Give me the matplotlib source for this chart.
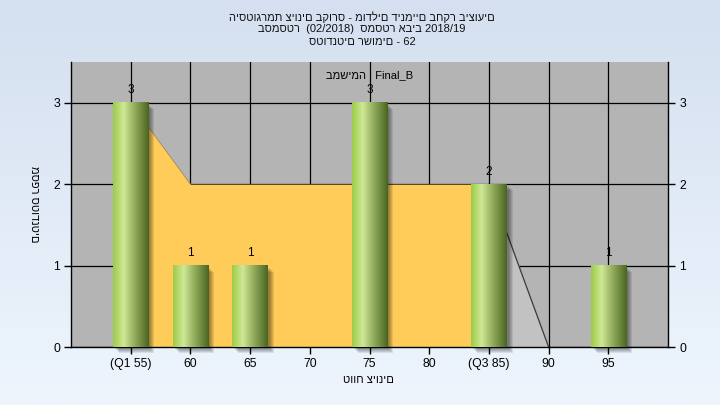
import numpy as np
import matplotlib
matplotlib.use('Agg')
import matplotlib.pyplot as plt
from matplotlib.colors import LinearSegmentedColormap
from matplotlib.patches import Rectangle
from matplotlib.transforms import ScaledTranslation

plt.rcParams['font.family'] = ['Liberation Sans', 'DejaVu Sans']

# ---- data ----
categories = ['(Q1 55)', '60', '65', '70', '75', '80', '(Q3 85)', '90', '95']
counts = [3, 1, 1, 0, 3, 0, 2, 0, 1]
iqr_curve = [3, 2, 2, 2, 2, 2, 2]      # 55 .. 85 (Q1..Q3)
tail_curve = [2, 0]                     # 85 .. 90
y_ticks = [0, 1, 2, 3]

title_lines = ['היסטוגרמת ציונים בקורס - מודלים דינמיים בחקר ביצועים',
               'בסמסטר  (02/2018)  סמסטר אביב 2018/19',
               'סטודנטים רשומים - 62']
task_text = 'במשימה : Final_B'
x_label = 'טווח ציונים'
y_label = 'מספר סטודנטים'

W, H = 720, 405
fig = plt.figure(figsize=(W / 100, H / 100), dpi=100)

# background gradient
bg = fig.add_axes([0, 0, 1, 1], zorder=-10)
bg_cmap = LinearSegmentedColormap.from_list('bg', ['#eef5fd', '#d4e0f0'])
bg.imshow(np.linspace(0, 1, 256)[:, None], aspect='auto', cmap=bg_cmap,
          extent=[0, 1, 0, 1], origin='lower')
bg.axis('off')

L, R, T, B = 71, 668, 62, 347
ax = fig.add_axes([L / W, (H - B) / H, (R - L) / W, (B - T) / H])
ax.set_facecolor('#b4b4b4')

x = np.arange(len(categories))

# grid
ax.set_axisbelow(True)
ax.grid(True, color='black', lw=0.9)

# areas
ax.fill_between(x[:len(iqr_curve)], iqr_curve, color='#ffcc5a', lw=0, zorder=1.5)
ax.plot(x[:2], iqr_curve[:2], color='#9a8a60', lw=0.6, zorder=1.55)
ti = len(iqr_curve) - 1
ax.fill_between(x[ti:ti + len(tail_curve)], tail_curve, color='#c2c2c2', lw=0, zorder=1.5)
ax.plot(x[ti:ti + len(tail_curve)], tail_curve, color='#3a3a3a', lw=0.9, zorder=1.6)

# bars
bar_w = 0.59
bars = ax.bar(x, counts, width=bar_w, color='none', lw=0, zorder=3)
gcmap = LinearSegmentedColormap.from_list(
    'g', [(0, '#9dcb47'), (0.3, '#cfe896'), (0.55, '#9db666'), (1, '#48641f')])
grad = np.linspace(0, 1, 256)[None, :]
for b in bars:
    h = b.get_height()
    if h <= 0:
        continue
    x0, w = b.get_x(), b.get_width()
    for off in [2, 3, 4, 5, 6]:
        tr = ax.transData + ScaledTranslation(off / 100, -off / 100, fig.dpi_scale_trans)
        ax.add_patch(Rectangle((x0, 0), w, h, transform=tr, color='black',
                               alpha=0.09, lw=0, zorder=2.5, clip_on=False))
    ax.imshow(grad, extent=[x0, x0 + w, 0, h], aspect='auto', cmap=gcmap,
              zorder=3, interpolation='bilinear')
    ax.annotate(str(int(h)), (x0 + w / 2, h), xytext=(0, 9), textcoords='offset points',
                ha='center', va='center', fontsize=8.5, color='black', zorder=5)

ax.set_xlim(-1, 9)
ax.set_ylim(0, 3.5)
ax.set_xticks(x, categories)
ax.set_yticks(y_ticks)
ax.tick_params(direction='out', length=5, width=1, labelsize=8.8, colors='black',
               right=True, labelright=True, pad=3)
for s in ['left', 'right', 'bottom']:
    ax.spines[s].set_color('black')
    ax.spines[s].set_linewidth(1)
ax.spines['top'].set_visible(False)

ax.text(0.5, 1 - 13 / (B - T), task_text, transform=ax.transAxes, ha='center',
        va='center', fontsize=8, color='black', zorder=6)

# titles
for line, yc in zip(title_lines, [17.5, 29.5, 42]):
    fig.text(362 / W, 1 - yc / H, line, ha='center', va='center', fontsize=8,
             color='#111111')

fig.text(368 / W, 1 - 380 / H, x_label, ha='center', va='center', fontsize=8)
fig.text(34 / W, 1 - 204 / H, y_label, ha='center', va='center', fontsize=8,
         rotation=270)

fig.savefig('out.png', dpi=100)
